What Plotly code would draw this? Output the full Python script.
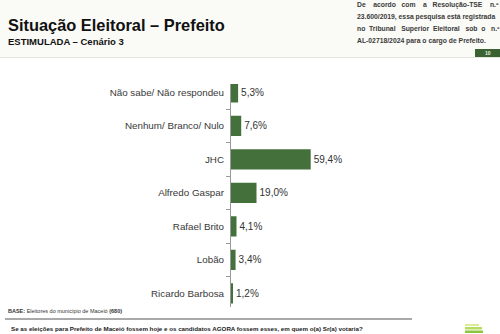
import plotly.graph_objects as go

W, H = 500, 334

categories = ["Não sabe/ Não respondeu", "Nenhum/ Branco/ Nulo", "JHC", "Alfredo Gaspar",
              "Rafael Brito", "Lobão", "Ricardo Barbosa"]
values = [5.3, 7.6, 59.4, 19.0, 4.1, 3.4, 1.2]

title = "Situação Eleitoral – Prefeito"
subtitle = "ESTIMULADA – Cenário 3"
# registration note; justified lines carry the number of spaces between words
note_line1 = ["De", "acordo", "com", "a", "Resolução-TSE", "n.º"]
note_line1_gaps = [4, 3, 4, 3, 4]
note_line2 = "23.600/2019, essa pesquisa está registrada"
note_line3 = ["no", "Tribunal", "Superior", "Eleitoral", "sob", "o", "n.º"]
note_line3_gaps = [2, 3, 2, 3, 2, 3]
note_line4 = "AL-02718/2024 para o cargo de Prefeito."
base_text = "<b>BASE:</b> Eleitores do município de Maceió <b>(680)</b>"
question = "Se as eleições para Prefeito de Maceió fossem hoje e os candidatos AGORA fossem esses, em quem o(a) Sr(a) votaria?"
badge = "10"


def fx(p):
    return p / W


def fy(p):
    return 1 - p / H


def justify(words, gaps):
    out = words[0]
    for w, g in zip(words[1:], gaps):
        out += "\u00a0" * g + w
    return out


FONT = "Liberation Sans, Arial, sans-serif"
GREEN = "#44703c"

fig = go.Figure(go.Bar(
    x=values, y=categories, orientation="h",
    marker=dict(color=GREEN, line=dict(width=0)),
    width=0.6,
    texttemplate="%{x:.1f}%", textposition="outside",
    textfont=dict(family=FONT, size=10, color="#333333"),
    cliponaxis=False,
))

fig.update_layout(
    width=W, height=H,
    margin=dict(l=0, r=0, t=0, b=0),
    paper_bgcolor="white", plot_bgcolor="rgba(0,0,0,0)",
    separators=",.",
    showlegend=False,
    font=dict(family=FONT),
    xaxis=dict(domain=[fx(231), fx(231 + 80 * 1.342)], range=[0, 80],
               visible=False, fixedrange=True),
    yaxis=dict(domain=[fy(306.8), fy(84)], type="category",
               categoryorder="array", categoryarray=categories,
               range=[6.4, -0.25],
               showline=True, linecolor="#9a9a9a", linewidth=1,
               ticks="outside", ticklen=4, tickcolor="#9a9a9a", tickson="boundaries",
               ticklabelstandoff=4,
               tickfont=dict(family=FONT, size=9.8, color="#383838"),
               showgrid=False, zeroline=False),
)

shapes = [
    dict(type="rect", xref="paper", yref="paper", x0=0, x1=1, y0=fy(57), y1=1,
         fillcolor="#fafaf7", line=dict(width=0), layer="below"),
    dict(type="line", xref="paper", yref="paper", x0=0, x1=1, y0=fy(57.5), y1=fy(57.5),
         line=dict(color="#e6e6e0", width=1)),
    dict(type="rect", xref="paper", yref="paper", x0=fx(475), x1=1, y0=fy(57), y1=fy(49),
         fillcolor="#3b6332", line=dict(width=0)),
    dict(type="line", xref="paper", yref="paper", x0=fx(5), x1=fx(412), y0=fy(319), y1=fy(319),
         line=dict(color="#555555", width=1)),
    dict(type="rect", xref="paper", yref="paper", x0=fx(465), x1=fx(479), y0=fy(326), y1=fy(324),
         fillcolor="#d9ec9a", line=dict(width=0)),
    dict(type="rect", xref="paper", yref="paper", x0=fx(465), x1=fx(482), y0=fy(329.5), y1=fy(327),
         fillcolor="#b6dc5e", line=dict(width=0)),
    dict(type="rect", xref="paper", yref="paper", x0=fx(465), x1=fx(483), y0=fy(333), y1=fy(330.5),
         fillcolor="#8cc63e", line=dict(width=0)),
]
fig.update_layout(shapes=shapes)

NOTE_FONT = dict(family=FONT, size=6.8, color="#3a3a3a")
note_texts = [justify(note_line1, note_line1_gaps), note_line2,
              justify(note_line3, note_line3_gaps), note_line4]
ann = [
    dict(text=f"<b>{title}</b>", x=fx(6), y=fy(25), xanchor="left", yanchor="middle",
         font=dict(family=FONT, size=16.4, color="#111111")),
    dict(text=f"<b>{subtitle}</b>", x=fx(6), y=fy(41), xanchor="left", yanchor="middle",
         font=dict(family=FONT, size=9.5, color="#111111")),
    dict(text=f"<b>{badge}</b>", x=fx(488), y=fy(53), xanchor="center", yanchor="middle",
         font=dict(family=FONT, size=5, color="#e8efe4")),
    dict(text=base_text, x=fx(6), y=fy(311), xanchor="left", yanchor="middle",
         font=dict(family=FONT, size=5.5, color="#333333")),
    dict(text=f"<b>{question}</b>", x=fx(9), y=fy(328.5), xanchor="left", yanchor="middle",
         font=dict(family=FONT, size=6.2, color="#222222")),
]
for i, t in enumerate(note_texts):
    ann.append(dict(text=f"<b>{t}</b>", x=fx(355), y=fy(5 + 12 * i), xanchor="left",
                    yanchor="middle", font=NOTE_FONT))
for a in ann:
    a.update(xref="paper", yref="paper", showarrow=False)
fig.update_layout(annotations=ann)

fig.write_html("out.html")
